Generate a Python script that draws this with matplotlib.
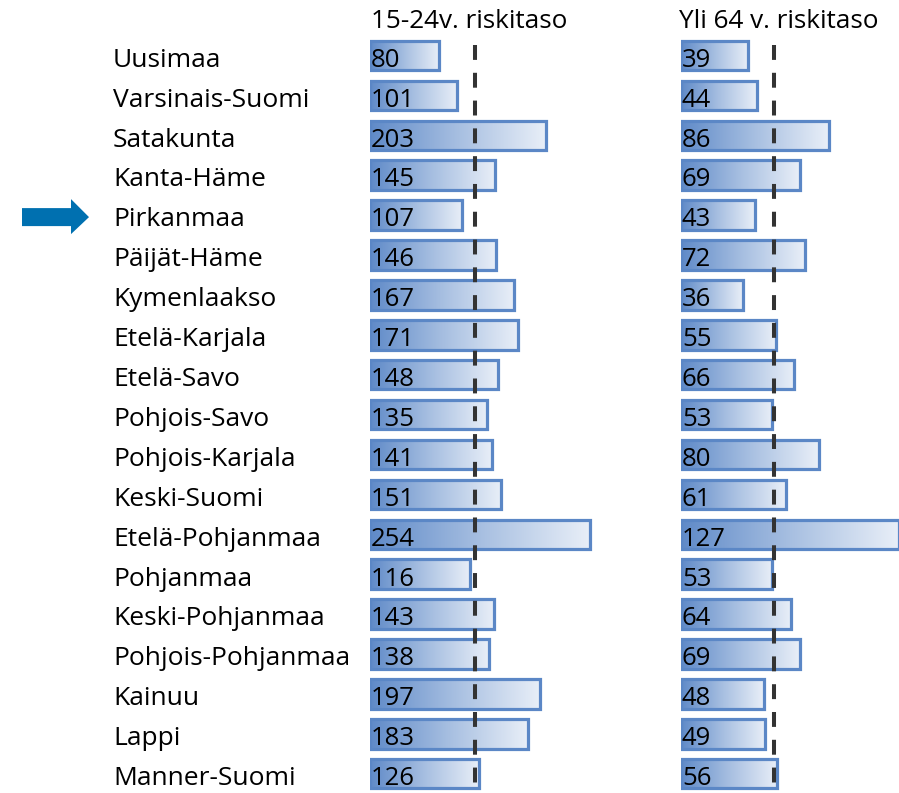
import numpy as np
import matplotlib
matplotlib.use("Agg")
import matplotlib.pyplot as plt
from matplotlib.colors import LinearSegmentedColormap
from matplotlib.patches import Polygon
from matplotlib.transforms import blended_transform_factory

regions = ["Uusimaa", "Varsinais-Suomi", "Satakunta", "Kanta-Häme", "Pirkanmaa",
           "Päijät-Häme", "Kymenlaakso", "Etelä-Karjala", "Etelä-Savo", "Pohjois-Savo",
           "Pohjois-Karjala", "Keski-Suomi", "Etelä-Pohjanmaa", "Pohjanmaa",
           "Keski-Pohjanmaa", "Pohjois-Pohjanmaa", "Kainuu", "Lappi", "Manner-Suomi"]
v15_24 = [80, 101, 203, 145, 107, 146, 167, 171, 148, 135, 141, 151, 254, 116, 143, 138, 197, 183, 126]
v64 = [39, 44, 86, 69, 43, 72, 36, 55, 66, 53, 80, 61, 127, 53, 64, 69, 48, 49, 56]
titles = ["15-24v. riskitaso", "Yli 64 v. riskitaso"]
risk_levels = [122, 54]
highlight = "Pirkanmaa"

FONT = ["Open Sans", "DejaVu Sans"]
plt.rcParams['font.family'] = FONT

W, H = 899, 793
fig = plt.figure(figsize=(W / 100, H / 100), dpi=100)

cmap = LinearSegmentedColormap.from_list("g", ["#5f8ac8", "#a7bfe1", "#e9eff8"])
edge = "#5b87c6"

row0, dy = 55.5, 39.9
n = len(regions)
ytop_px = row0 - 0.5 * dy
ybot_px = row0 + (n - 0.5) * dy

def make_ax(x0_px, x1_px, xmax):
    ax = fig.add_axes([x0_px / W, (H - ybot_px) / H, (x1_px - x0_px) / W, (ybot_px - ytop_px) / H])
    ax.set_xlim(0, xmax)
    ax.set_ylim(n - 0.5, -0.5)
    ax.axis("off")
    return ax

axL = make_ax(369.5, 660, (660 - 369.5) / 0.868)
axR = make_ax(681, 899, (899 - 681) / 1.719)

grad = np.linspace(0, 1, 256).reshape(1, -1)
h = 0.74
ypos = np.arange(n)
base_off = 11.3 / dy  # baseline offset below row centre

for ax, vals, risk, tx in [(axL, v15_24, risk_levels[0], 1.0), (axR, v64, risk_levels[1], 0.5)]:
    for i, v in enumerate(vals):
        ax.imshow(grad, cmap=cmap, extent=(0, v, i + h / 2, i - h / 2), aspect="auto",
                  zorder=1, interpolation="bilinear")
    ax.barh(ypos, vals, height=h, facecolor="none", edgecolor=edge, linewidth=2.3, zorder=2)
    for i, v in enumerate(vals):
        ax.text(tx, i + base_off, str(v), fontsize=18.5, va="baseline", ha="left",
                color="black", zorder=4)
    ax.plot([risk, risk], [-0.27, n - 0.5], color="#333333", linewidth=2.9,
            linestyle=(0, (3.7, 3.2)), zorder=3, solid_capstyle="butt")
    ax.set_ylim(n - 0.5, -0.5)

# region labels
tr = blended_transform_factory(fig.transFigure, axL.transData)
for i, r in enumerate(regions):
    axL.text(113 / W, i + base_off, r, transform=tr, fontsize=19, va="baseline", ha="left",
             color="black", clip_on=False)

# titles
fig.text(371 / W, (H - 28) / H, titles[0], fontsize=18.8, va="baseline", ha="left")
fig.text(679 / W, (H - 28) / H, titles[1], fontsize=18.8, va="baseline", ha="left")

# arrow pointing to highlighted region
ov = fig.add_axes([0, 0, 1, 1])
ov.set_xlim(0, W)
ov.set_ylim(H, 0)
ov.axis("off")
ov.patch.set_alpha(0)
yi = row0 + regions.index(highlight) * dy + 2
arrow = Polygon([(22, yi - 9), (71, yi - 9), (71, yi - 18), (89, yi), (71, yi + 17),
                 (71, yi + 9), (22, yi + 9)], closed=True, facecolor="#0070b0", edgecolor="none")
ov.add_patch(arrow)

fig.savefig("out.png", dpi=100)
